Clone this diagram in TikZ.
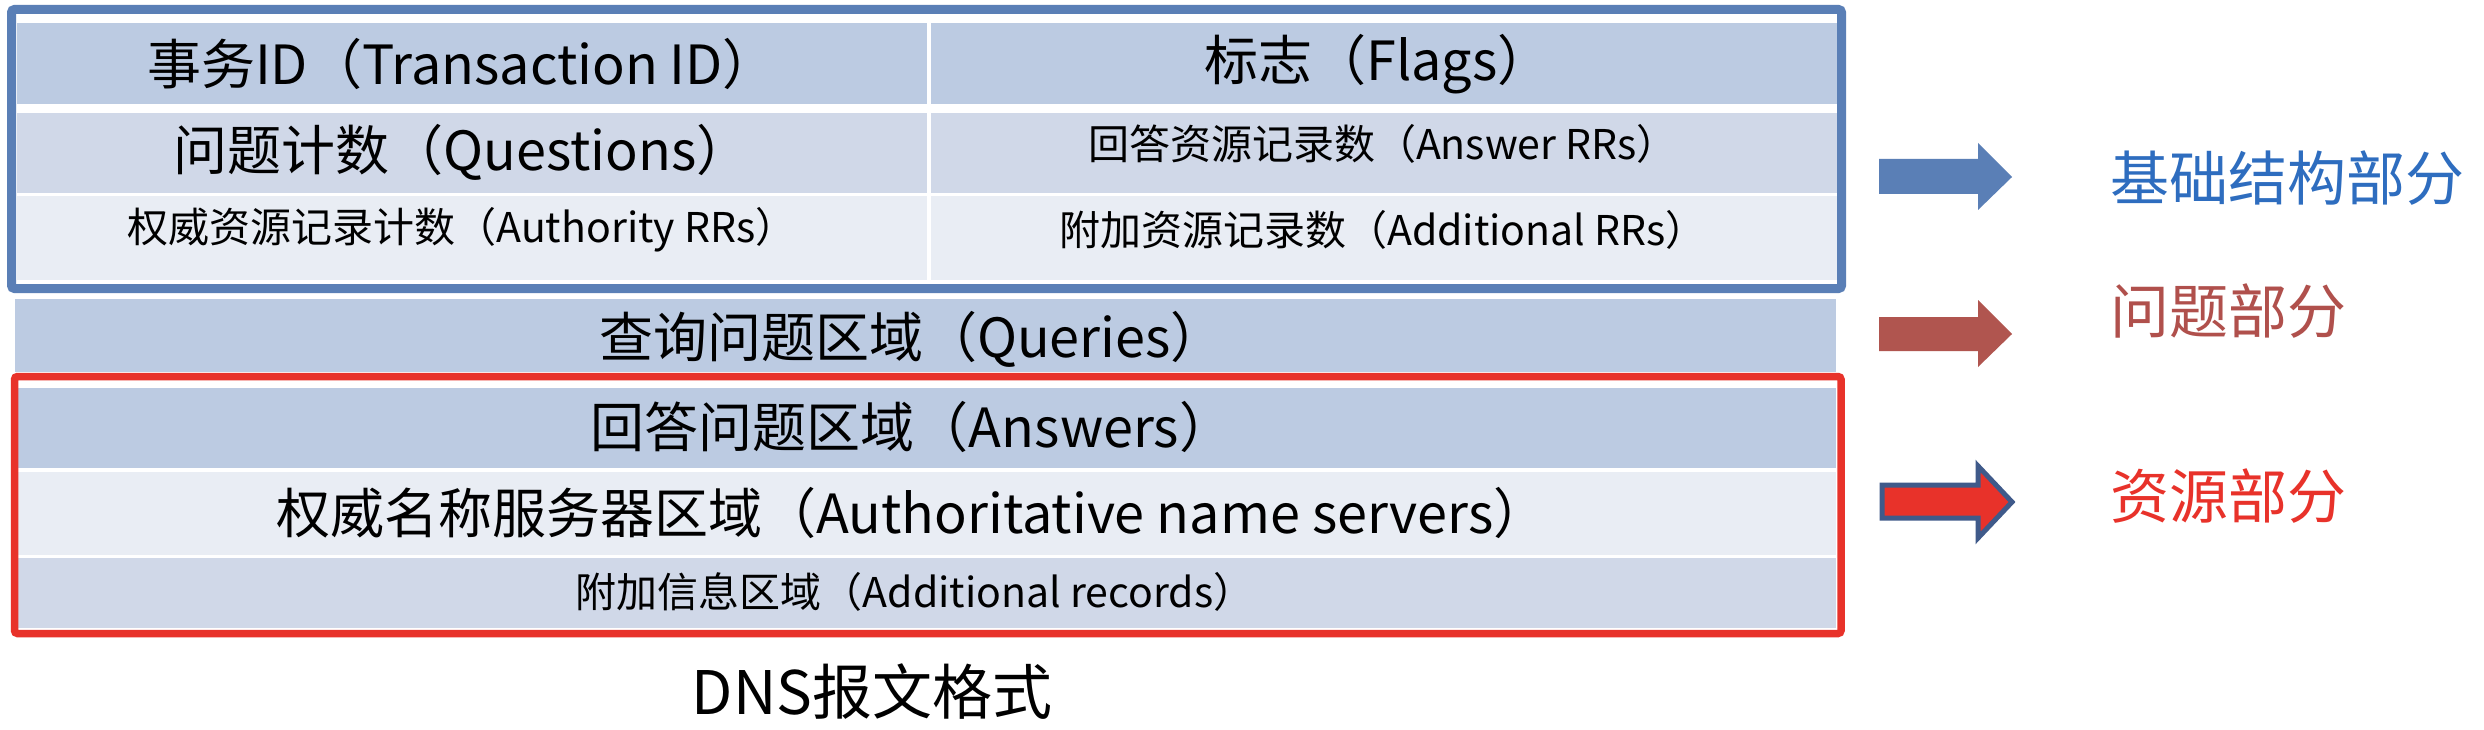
\documentclass[tikz,border=0pt]{standalone}
\usepackage{fontspec}
\setmainfont{Noto Sans CJK SC}
\definecolor{rowA}{HTML}{BCCBE2}
\definecolor{rowB}{HTML}{D0D8E8}
\definecolor{rowC}{HTML}{E9EDF4}
\definecolor{frameblue}{HTML}{5A7FB6}
\definecolor{framered}{HTML}{E8322A}
\definecolor{arrowbrown}{HTML}{B0554F}
\definecolor{labelblue}{HTML}{2E6DBF}
\definecolor{labelbrown}{HTML}{B0504C}
\definecolor{outlineblue}{HTML}{3F5A8A}
\begin{document}
\begin{tikzpicture}[x=1pt,y=-1pt,
  big/.style={inner sep=0pt,font=\fontsize{54}{62}\selectfont},
  small/.style={inner sep=0pt,font=\fontsize{41}{49}\selectfont},
  side/.style={inner sep=0pt,anchor=west,font=\fontsize{59}{67}\selectfont},
  captiontext/.style={inner sep=0pt,font=\fontsize{60}{70}\selectfont}]
\useasboundingbox[fill=white] (0,0) rectangle (2484,730);
% header cells
\fill[rowA] (17,23) rectangle (927,104);
\fill[rowA] (931,23) rectangle (1838,104);
\fill[rowB] (17,113) rectangle (927,193);
\fill[rowB] (931,113) rectangle (1838,193);
\fill[rowC] (17,196) rectangle (927,280);
\fill[rowC] (931,196) rectangle (1838,280);
% queries
\fill[rowA] (15,299) rectangle (1836,372);
% resource rows
\fill[rowA] (18,388) rectangle (1836,468);
\fill[rowC] (18,472) rectangle (1836,555);
\fill[rowB] (18,558) rectangle (1836,628);
% frames
\draw[frameblue,line width=9pt,rounded corners=3pt] (11.5,9.5) rectangle (1841.5,288.5);
\draw[framered,line width=7.5pt,rounded corners=3pt] (14.5,376.5) rectangle (1841,633.5);
% texts
\node[big] (tid) at (462,64) {事务ID（Transaction ID）};
\node[big] (flags) at (1378,64) {标志（Flags）};
\node[big] (qd) at (462,152) {问题计数（Questions）};
\node[small] (an) at (1383,144) {回答资源记录数（Answer RRs）};
\node[small] (ns) at (462,230) {权威资源记录计数（Authority RRs）};
\node[small] (ar) at (1383,230) {附加资源记录数（Additional RRs）};
\node[big] (qry) at (912,339) {查询问题区域（Queries）};
\node[big] (ans) at (912,427) {回答问题区域（Answers）};
\node[big] (auth) at (912,513) {权威名称服务器区域（Authoritative name servers）};
\node[small] (add) at (915,592) {附加信息区域（Additional records）};
\node[captiontext] (title) at (872,692) {DNS报文格式};
% block arrows
\fill[frameblue] (1879,159) -- (1978,159) -- (1978,143) -- (2012,177) -- (1978,210) -- (1978,194) -- (1879,194) -- cycle;
\fill[arrowbrown] (1879,317) -- (1978,317) -- (1978,300) -- (2012,334) -- (1978,367) -- (1978,351) -- (1879,351) -- cycle;
\filldraw[fill=framered,draw=outlineblue,line width=5pt,miter limit=10] (1882,485) -- (1978,485) -- (1978,466) -- (2012,502) -- (1978,538) -- (1978,518) -- (1882,518) -- cycle;
% side labels
\node[side,text=labelblue] (base) at (2110,178) {基础结构部分};
\node[side,text=labelbrown] (qpart) at (2110,311) {问题部分};
\node[side,text=framered] (rpart) at (2110,496) {资源部分};
\end{tikzpicture}
\end{document}
